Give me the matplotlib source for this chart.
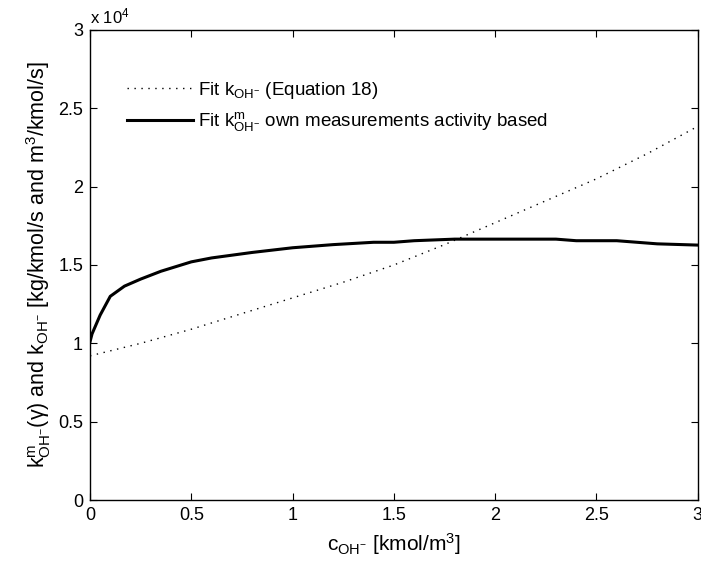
import numpy as np
from matplotlib import pyplot as plt

plt.rcParams['font.family'] = ['Liberation Sans', 'DejaVu Sans']
plt.rcParams['mathtext.default'] = 'regular'

# concentration [kmol/m3]
cFit = [0.0, 0.25, 0.5, 0.75, 1.0, 1.25, 1.5, 1.75, 2.0, 2.25, 2.5, 2.75, 3.0]
# k_OH- from Equation 18 (units of 1e4)
kFit = [0.92, 1.00, 1.09, 1.19, 1.29, 1.39, 1.50, 1.63, 1.77, 1.91, 2.05, 2.21, 2.385]

cMeas = [0.0, 0.01, 0.02, 0.05, 0.1, 0.17, 0.25, 0.35, 0.5, 0.6, 0.8, 1.0,
         1.2, 1.4, 1.5, 1.6, 1.8, 2.0, 2.3, 2.4, 2.6, 2.8, 3.0]
kMeas = [1.01, 1.06, 1.09, 1.18, 1.30, 1.365, 1.41, 1.46, 1.52, 1.545, 1.58, 1.61,
         1.63, 1.645, 1.645, 1.655, 1.665, 1.665, 1.665, 1.655, 1.655, 1.635, 1.627]

fig = plt.figure(figsize=(7.01, 5.70), dpi=100)
ax = fig.add_axes([0.1284, 0.1228, 0.867, 0.8246])

ax.plot(cFit, kFit, color='black', linestyle=(0, (1, 4)), linewidth=1.0,
        label='Fit $k_{OH^{-}}$ (Equation 18)')
ax.plot(cMeas, kMeas, color='black', linestyle='-', linewidth=2.2,
        label='Fit $k^{m}_{OH^{-}}$ own measurements activity based')

ax.set_xlim(0, 3)
ax.set_ylim(0, 3)
ax.set_xticks([0, 0.5, 1, 1.5, 2, 2.5, 3])
ax.set_xticklabels(['0', '0.5', '1', '1.5', '2', '2.5', '3'])
ax.set_yticks([0, 0.5, 1, 1.5, 2, 2.5, 3])
ax.set_yticklabels(['0', '0.5', '1', '1.5', '2', '2.5', '3'])
ax.tick_params(direction='in', top=True, right=True, labelsize=13, length=5, pad=5)
for s in ax.spines.values():
    s.set_linewidth(1.0)

ax.text(0.0, 1.008, r'x 10$^4$', transform=ax.transAxes, fontsize=12,
        ha='left', va='bottom')

ax.set_xlabel('$c_{OH^{-}}$ [kmol/m$^3$]', fontsize=15, labelpad=5)
ax.set_ylabel('$k^{m}_{OH^{-}}$($\\gamma$) and $k_{OH^{-}}$ [kg/kmol/s and m$^3$/kmol/s]',
              fontsize=15.5, labelpad=4)

ax.legend(loc='upper left', bbox_to_anchor=(0.033, 0.93), frameon=False, fontsize=13.5,
          handlelength=3.5, handletextpad=0.27, labelspacing=0.5)

plt.savefig('out.png', dpi=100)
